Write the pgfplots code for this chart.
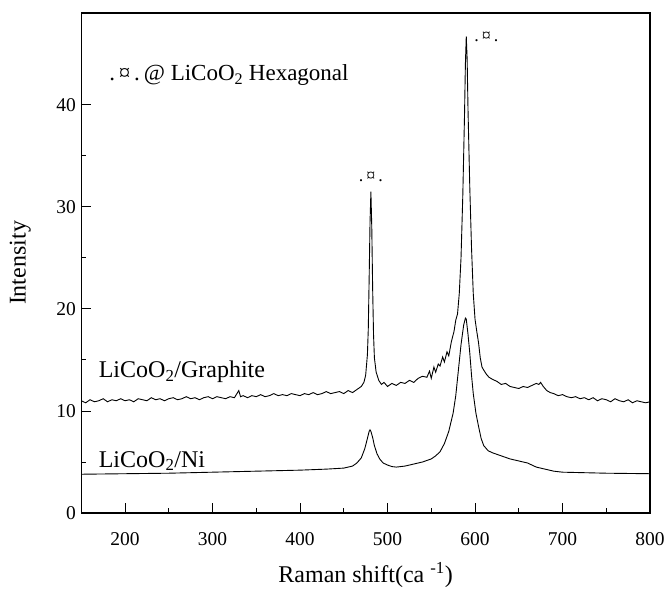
\documentclass[border=0pt]{standalone}
\usepackage{fontspec}
\setmainfont{Liberation Serif}
\usepackage{pgfplots}
\pgfplotsset{compat=1.18}
\usetikzlibrary{calc}
\begin{document}
\begin{tikzpicture}
\begin{axis}[
  scale only axis,
  width=568.7pt, height=500pt,
  xmin=150, xmax=800, ymin=0, ymax=49,
  xtick={200,300,...,800}, ytick={0,10,20,30,40},
  minor x tick num=1, minor y tick num=1,
  tick align=inside, tick pos=left,
  major tick length=10pt, minor tick length=5pt,
  axis line style={line width=1.1pt},
  every tick/.style={line width=0.9pt, black},
  /pgf/number format/assume math mode=true,
  ticklabel style={font=\fontsize{19.5}{19.5}\selectfont},
  xticklabel style={yshift=-16pt},
  yticklabel style={xshift=-2pt},
  clip=false,
]
\addplot[black, line width=0.9pt] coordinates {
(150,11.0)(155,10.8)(160,11.1)(165,10.9)(170,11.0)(175,11.2)(180,10.9)(185,11.1)(190,11.0)(195,11.2)
(200,11.0)(205,11.1)(210,10.9)(215,11.2)(220,11.1)(225,11.0)(230,11.3)(235,11.1)(240,11.2)(245,11.0)
(250,11.2)(255,11.3)(260,11.1)(265,11.2)(270,11.4)(275,11.2)(280,11.3)(285,11.1)(290,11.3)(295,11.4)
(300,11.2)(305,11.4)(310,11.3)(315,11.2)(320,11.4)(325,11.3)(330,12.0)(332,11.4)(335,11.5)(340,11.3)
(345,11.5)(350,11.4)(355,11.6)(360,11.4)(365,11.5)(370,11.7)(375,11.5)(380,11.6)(385,11.5)(390,11.7)
(395,11.6)(400,11.5)(405,11.7)(410,11.6)(415,11.8)(420,11.6)(425,11.7)(430,11.9)(435,11.7)(440,11.8)
(445,11.9)(450,11.7)(455,12.0)(460,11.8)(465,12.1)(470,12.4)(473,12.8)(475,13.5)(477,15.5)(478,18.0)
(479,23.0)(480,28.5)(481,31.5)(482,28.0)(483,22.0)(484,17.5)(485,15.2)(487,13.8)(490,13.0)(493,12.6)
(496,12.8)(500,12.4)(505,12.7)(510,12.5)(515,12.8)(520,12.7)(525,13.0)(530,12.8)(535,13.2)(540,13.4)
(545,13.3)(548,13.9)(550,13.2)(553,14.3)(555,13.8)(558,14.6)(560,14.4)(563,15.3)(565,14.8)(568,15.8)
(570,15.4)(573,16.8)(576,17.8)(578,18.9)(580,19.5)(582,21.5)(584,25.0)(586,31.0)(588,39.0)(589,44.0)
(590,46.7)(591,44.5)(592,39.5)(594,32.0)(596,26.0)(598,21.5)(600,19.0)(602,17.8)(604,16.7)(606,15.2)
(608,14.3)(610,14.0)(613,13.6)(616,13.3)(620,13.1)(625,12.9)(630,12.6)(635,12.7)(640,12.4)(645,12.3)
(650,12.2)(655,12.4)(660,12.3)(665,12.5)(670,12.7)(673,12.6)(675,12.8)(678,12.4)(682,12.0)(686,11.8)
(690,11.7)(695,11.5)(700,11.6)(705,11.4)(710,11.3)(715,11.4)(720,11.2)(725,11.3)(730,11.1)(735,11.3)
(740,11.0)(745,11.2)(750,11.1)(755,10.9)(760,11.2)(765,11.0)(770,10.9)(775,11.1)(780,10.8)(785,11.0)
(790,10.9)(795,10.8)(800,10.9)
};
\addplot[black, line width=0.9pt] coordinates {
(150,3.8)(200,3.85)(250,3.9)(300,4.0)(350,4.1)(400,4.2)(430,4.3)(450,4.4)(460,4.6)(465,4.9)
(470,5.4)(474,6.3)(477,7.3)(479,8.0)(480,8.15)(481,8.0)(483,7.4)(485,6.6)(488,5.8)(491,5.3)
(495,4.9)(500,4.7)(505,4.55)(510,4.5)(520,4.6)(530,4.8)(540,5.0)(550,5.3)(555,5.6)(560,6.0)
(565,6.8)(570,8.0)(575,9.8)(578,11.5)(581,14.0)(584,16.5)(587,18.4)(589,19.1)(590,19.0)(592,17.5)
(594,15.7)(596,13.5)(598,11.7)(601,9.8)(604,8.5)(607,7.3)(610,6.6)(615,6.1)(620,5.9)(630,5.6)
(640,5.3)(650,5.1)(660,4.9)(665,4.7)(670,4.5)(680,4.3)(690,4.1)(700,4.0)(750,3.9)(800,3.85)
};
\node[anchor=west, font=\fontsize{24}{24}\selectfont] at (axis cs:166,13.8) {LiCoO\textsubscript{2}/Graphite};
\node[anchor=west, font=\fontsize{24}{24}\selectfont] at (axis cs:166,5.1) {LiCoO\textsubscript{2}/Ni};
\node[anchor=west, font=\fontsize{23}{23}\selectfont] at (axis cs:178,42.9) {.\,¤\,.\,@ LiCoO\textsubscript{2} Hexagonal};
\node[font=\fontsize{18}{18}\selectfont] at (axis cs:481,32.9) {.\,¤\,.};
\node[font=\fontsize{18}{18}\selectfont] at (axis cs:613,46.7) {.\,¤\,.};
\node[font=\fontsize{24}{24}\selectfont] at ([yshift=-62pt]rel axis cs:0.5,0) {Raman shift(ca \textsuperscript{-1})};
\node[rotate=90, font=\fontsize{24}{24}\selectfont] at ([xshift=-61pt]rel axis cs:0,0.5) {Intensity};
\coordinate (sw) at (rel axis cs:0,0);
\coordinate (ne) at (rel axis cs:1,1);
\end{axis}
\pgfresetboundingbox
\path[use as bounding box] ($(sw)+(-81.3pt,-78pt)$) rectangle ($(ne)+(17pt,13pt)$);
\end{tikzpicture}
\end{document}
